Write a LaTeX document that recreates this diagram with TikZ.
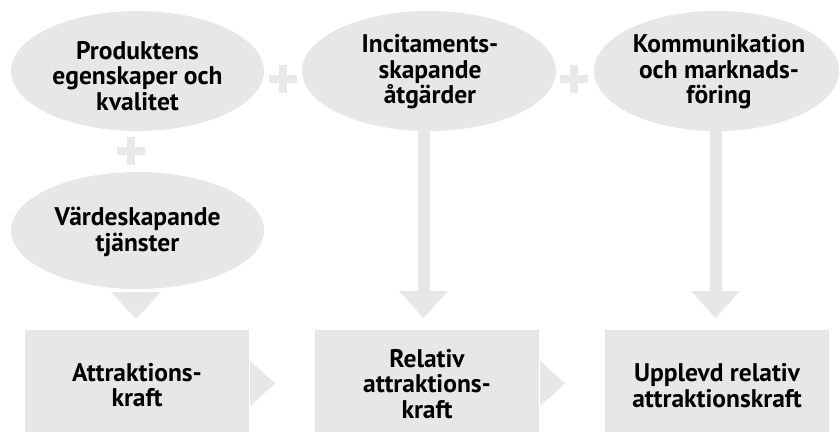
\documentclass[tikz,border=0pt]{standalone}
\usepackage{fontspec}
\setmainfont{PT Sans}
\usetikzlibrary{shapes.geometric,calc}
\definecolor{shapegray}{HTML}{E6E7E6}
\definecolor{plusgray}{HTML}{E9E9E9}
\tikzset{
  oval/.style={ellipse, fill=shapegray, draw=none, inner sep=0pt},
  txt/.style={align=center, inner sep=0pt, font=\fontsize{25.5}{25.5}\selectfont\bfseries},
  boxnode/.style={rectangle, fill=shapegray, draw=none, minimum width=224pt, minimum height=102pt, inner sep=0pt},
  plusnode/.style={minimum size=28pt, inner sep=0pt},
  plusbar/.style={draw=plusgray, line width=8pt},
  shaft/.style={draw=shapegray, line width=12pt},
  head/.style={fill=shapegray},
}
\begin{document}
\begin{tikzpicture}[x=1pt,y=-1pt]
\useasboundingbox (0,0) rectangle (840,432);
% ellipses
\node[oval, minimum width=253pt, minimum height=120pt] (e1) at (137.5,71) {};
\node[oval, minimum width=254pt, minimum height=120pt] (e2) at (429,71) {};
\node[oval, minimum width=245pt, minimum height=120pt] (e3) at (716.5,71) {};
\node[oval, minimum width=253pt, minimum height=117pt] (e4) at (137.5,230.5) {};
\node[txt] (t1) at (137.5,76) {Produktens\\egenskaper och\\kvalitet};
\node[txt] (t2) at (430,72) {Incitaments-\\skapande\\åtgärder};
\node[txt] (t3) at (719,72) {Kommunikation\\och marknads-\\föring};
\node[txt] (t4) at (137.5,232) {Värdeskapande\\tjänster};
% plus signs
\node[plusnode] (p1) at (283,79) {};
\node[plusnode] (p2) at (574,79) {};
\node[plusnode] (p3) at (131,151) {};
\foreach \p in {p1,p2,p3}{
  \draw[plusbar] (\p.west) -- (\p.east) (\p.north) -- (\p.south);
}
% boxes
\node[boxnode] (b1) at (137,381) {};
\node[boxnode] (b2) at (427,381) {};
\node[boxnode] (b3) at (717,381) {};
\node[txt] (u1) at (137,385) {Attraktions-\\kraft};
\node[txt] (u2) at (427,384) {Relativ\\attraktions-\\kraft};
\node[txt] (u3) at (717,385.5) {Upplevd relativ\\attraktionskraft};
% vertical arrows
\coordinate (a1) at (136,319);
\coordinate (a2) at (423.5,318);
\coordinate (a3) at (715.5,318);
\draw[shaft] ($(e2.south -| a2)+(0,-2)$) -- ($(a2)+(0,-26)$);
\draw[shaft] ($(e3.south -| a3)+(0,-2)$) -- ($(a3)+(0,-26)$);
\fill[head] (a1) -- ++(-25,-27) -- ++(50,0) -- cycle;
\fill[head] (a2) -- ++(-24.5,-27) -- ++(49,0) -- cycle;
\fill[head] (a3) -- ++(-24.5,-27) -- ++(49,0) -- cycle;
% horizontal arrows
\fill[head] ($(b1.east)+(1,-20)$) -- ($(b1.east)+(1,25)$) -- ($(b1.east)+(26,2.5)$) -- cycle;
\fill[head] ($(b2.east)+(1,-20)$) -- ($(b2.east)+(1,25)$) -- ($(b2.east)+(26,2.5)$) -- cycle;
\end{tikzpicture}
\end{document}
